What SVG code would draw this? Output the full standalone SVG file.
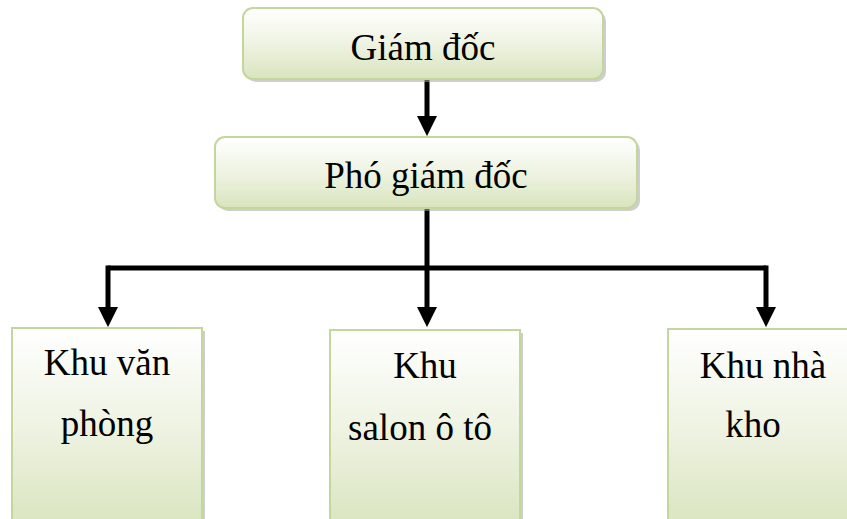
<svg xmlns="http://www.w3.org/2000/svg" width="847" height="519" viewBox="0 0 847 519">
<style>
.box{fill:url(#g);stroke:#c3d69b;stroke-width:2}
.sh{fill:#a6a6a6;opacity:0.55}
.t{font-family:"Liberation Serif","Times New Roman",serif;font-size:37px;fill:#000;text-anchor:middle}
.c{fill:none;stroke:#000;stroke-width:5;stroke-linejoin:miter}
</style>
<defs>
<linearGradient id="g" x1="0" y1="0" x2="0" y2="1">
<stop offset="0" stop-color="#ffffff"/>
<stop offset="0.5" stop-color="#eef3e2"/>
<stop offset="1" stop-color="#d9e4be"/>
</linearGradient>
<marker id="a" markerUnits="userSpaceOnUse" markerWidth="20" markerHeight="20" viewBox="0 0 18 18" refX="8" refY="9" orient="auto">
<path d="M0,0 L18,9 L0,18 z" fill="#000"/>
</marker>
</defs>
<g id="connectors">
<path class="c" d="M427,79 L427,125" marker-end="url(#a)"/>
<path class="c" d="M427,209 L427,316" marker-end="url(#a)"/>
<path class="c" d="M108,268 L766,268"/>
<path class="c" d="M108,265.5 L108,316" marker-end="url(#a)"/>
<path class="c" d="M766,265.5 L766,316" marker-end="url(#a)"/>
</g>
<g id="giam-doc">
<rect class="sh" x="246" y="11" width="360" height="71" rx="10"/>
<rect class="box" x="243" y="8" width="360" height="71" rx="10"/>
<text class="t" x="423" y="60">Giám đốc</text>
</g>
<g id="pho-giam-doc">
<rect class="sh" x="218" y="140" width="422" height="71" rx="10"/>
<rect class="box" x="215" y="137" width="422" height="71" rx="10"/>
<text class="t" x="426" y="188">Phó giám đốc</text>
</g>
<g id="khu-van-phong">
<rect class="sh" x="15" y="331" width="190" height="200"/>
<rect class="box" x="12" y="328" width="190" height="200"/>
<text class="t" x="107" y="375">Khu văn</text>
<text class="t" x="107" y="436">phòng</text>
</g>
<g id="khu-salon">
<rect class="sh" x="333" y="333" width="190" height="200"/>
<rect class="box" x="330" y="330" width="190" height="200"/>
<text class="t" x="425" y="378">Khu</text>
<text class="t" x="420" y="440">salon ô tô</text>
</g>
<g id="khu-nha-kho">
<rect class="sh" x="671" y="332" width="190" height="200"/>
<rect class="box" x="668" y="329" width="190" height="200"/>
<text class="t" x="763" y="378">Khu nhà</text>
<text class="t" x="753" y="437">kho</text>
</g>
</svg>
